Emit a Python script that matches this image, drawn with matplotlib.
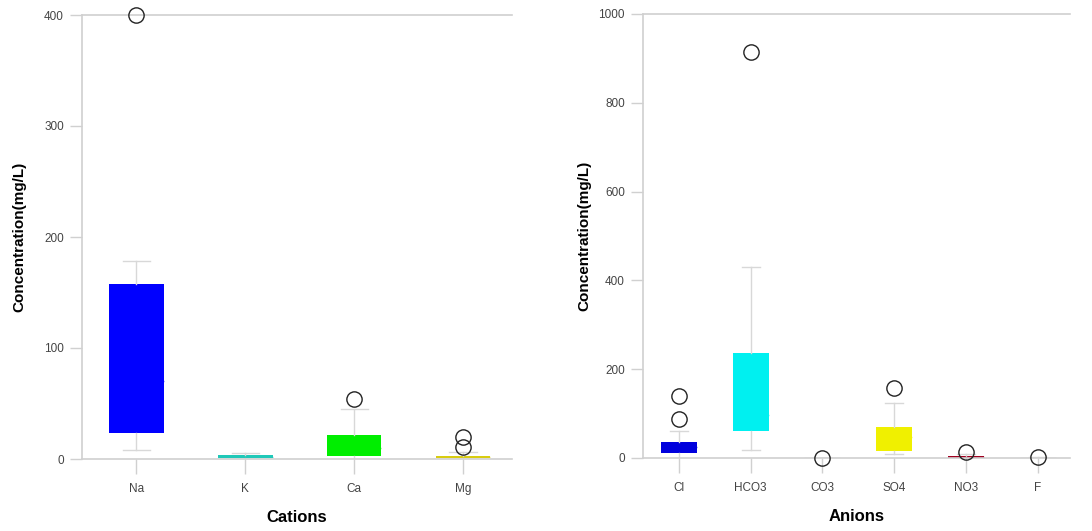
import matplotlib.pyplot as plt

plt.rcParams['font.family'] = ['Liberation Sans', 'DejaVu Sans']

# Cations (mg/L)
cations = ['Na', 'K', 'Ca', 'Mg']
cat_q1 = [23.5, 0.8, 3, 0.5]
cat_med = [70, 2, 10, 1.5]
cat_q3 = [158, 4, 22, 3]
cat_lo = [8, 0, 0, 0]
cat_hi = [178, 5, 45, 6]
cat_fliers = [[400], [], [54], [20, 10.5]]
cat_colors = ['#0000ff', '#20c8b8', '#00ee00', '#d8cc10']

# Anions (mg/L)
anions = ['Cl', 'HCO3', 'CO3', 'SO4', 'NO3', 'F']
an_q1 = [11, 61, 0, 16, 0.5, 0.3]
an_med = [25, 97, 0, 47, 2, 0.6]
an_q3 = [36, 236, 0, 70, 5, 1]
an_lo = [0, 18, 0, 8, 0, 0]
an_hi = [60, 431, 0, 124, 10, 1.5]
an_fliers = [[140, 88], [914], [0], [157], [13], [2]]
an_colors = ['#0000dd', '#00f0f0', '#888888', '#f0f000', '#a00020', '#999999']

grey = '#d0d0d0'
tick_txt = '#444444'


def draw(ax, labels, q1, med, q3, lo, hi, fliers, colors, ymax, yticks, xlabel):
    stats = []
    for i, lab in enumerate(labels):
        stats.append(dict(label=lab, q1=q1[i], med=med[i], q3=q3[i],
                          whislo=lo[i], whishi=hi[i], fliers=fliers[i]))
    bp = ax.bxp(stats, widths=0.5, patch_artist=True, showfliers=True,
                boxprops=dict(linewidth=0),
                whiskerprops=dict(color='#d8d8d8', linewidth=1.0),
                capprops=dict(color='#d8d8d8', linewidth=1.0),
                flierprops=dict(marker='o', markerfacecolor='none',
                                markeredgecolor='#222222', markersize=11,
                                markeredgewidth=1.0))
    for patch, c in zip(bp['boxes'], colors):
        patch.set_facecolor(c)
    for m, c in zip(bp['medians'], colors):
        m.set_color(c)
        m.set_alpha(0.6)
        m.set_linewidth(1)
    for f in bp['fliers']:
        f.set_clip_on(False)
        f.set_zorder(5)
    ax.set_ylim(0, ymax)
    ax.set_yticks(yticks)
    ax.set_xlim(0.5, len(labels) + 0.45)
    for s in ['left', 'top', 'bottom']:
        ax.spines[s].set_color(grey)
        ax.spines[s].set_linewidth(1.2)
    ax.spines['right'].set_visible(False)
    ax.tick_params(axis='y', length=9, width=1, color=grey, pad=4,
                   labelsize=8.5, labelcolor=tick_txt)
    ax.tick_params(axis='x', length=11, width=1, color=grey, pad=6,
                   labelsize=8.5, labelcolor=tick_txt)
    ax.set_xlabel(xlabel, fontsize=12, fontweight='bold', labelpad=11)
    ax.set_ylabel('Concentration(mg/L)', fontsize=11, fontweight='bold')


fig = plt.figure(figsize=(10.92, 5.31), dpi=100)
fig.set_facecolor('white')

ax1 = fig.add_axes([82 / 1092, (531 - 459) / 531, (512 - 82) / 1092, (459 - 15) / 531])
draw(ax1, cations, cat_q1, cat_med, cat_q3, cat_lo, cat_hi, cat_fliers, cat_colors,
     400, [0, 100, 200, 300, 400], 'Cations')
ax1.yaxis.set_label_coords(-0.13, 0.5)

ax2 = fig.add_axes([643 / 1092, (531 - 458) / 531, (1070 - 643) / 1092, (458 - 14) / 531])
draw(ax2, anions, an_q1, an_med, an_q3, an_lo, an_hi, an_fliers, an_colors,
     1000, [0, 200, 400, 600, 800, 1000], 'Anions')
ax2.yaxis.set_label_coords(-0.12, 0.5)

fig.savefig('out.png', dpi=100)
